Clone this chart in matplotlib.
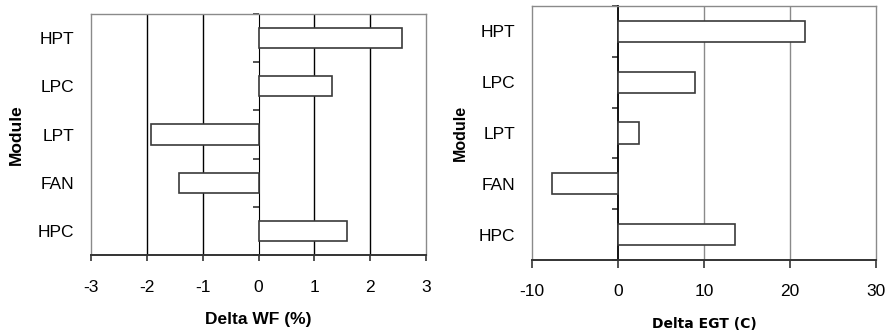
import matplotlib.pyplot as plt
import numpy as np

plt.rcParams['font.family'] = ['Liberation Sans', 'DejaVu Sans']

modules = ['HPT', 'LPC', 'LPT', 'FAN', 'HPC']
delta_wf = [2.57, 1.32, -1.92, -1.42, 1.58]
delta_egt = [21.8, 9.0, 2.4, -7.7, 13.6]
wf_ticks = [-3, -2, -1, 0, 1, 2, 3]
egt_ticks = [-10, 0, 10, 20, 30]

fig = plt.figure(figsize=(8.88, 3.31), dpi=100)
ax1 = fig.add_axes([0.1025, 0.2296, 0.3773, 0.7281])
ax2 = fig.add_axes([0.5991, 0.2145, 0.3874, 0.7674])

y = np.arange(len(modules))


def draw_panel(ax, vals, ticks, grid_col, zero_col, tick_len, tick_pad):
    ax.set_xlim(ticks[0], ticks[-1])
    ax.set_ylim(len(modules) - 0.5, -0.5)
    for t in ticks[1:-1]:
        if t != 0:
            ax.axvline(t, color=grid_col, lw=1.0, zorder=0)
    ax.barh(y, vals, height=0.42, color='white', edgecolor='#3a3a3a',
            linewidth=1.2, zorder=2)
    ax.set_yticks(y)
    ax.set_yticklabels(modules, fontsize=12.5)
    ax.tick_params(axis='y', length=0, pad=12)
    ax.set_xticks(ticks)
    ax.set_xticklabels([str(t) for t in ticks], fontsize=12.5)
    ax.tick_params(axis='x', length=tick_len, width=1.2, color='#333333',
                   pad=tick_pad, direction='out')
    for s in ['left', 'right', 'top']:
        ax.spines[s].set_color('#8a8a8a')
        ax.spines[s].set_linewidth(1.0)
    ax.spines['bottom'].set_color('#333333')
    ax.spines['bottom'].set_linewidth(1.4)
    # zero axis with category separator ticks
    frac = (0 - ticks[0]) / (ticks[-1] - ticks[0])
    sec = ax.secondary_yaxis(frac)
    sec.set_yticks(np.arange(-0.5, len(modules), 1.0))
    sec.set_yticklabels([])
    sec.tick_params(length=4, width=1.2, color='#333333', direction='out',
                    left=True, right=False)
    sec.spines['left'].set_color(zero_col)
    sec.spines['left'].set_linewidth(1.3)


draw_panel(ax1, delta_wf, wf_ticks, 'black', '#777777', 4, 14)
draw_panel(ax2, delta_egt, egt_ticks, '#8a8a8a', 'black', 6, 11)

ax1.set_xlabel('Delta WF (%)', fontsize=12.5, fontweight='bold', labelpad=12)
ax1.set_ylabel('Module', fontsize=12.5, fontweight='bold', labelpad=10)
ax2.set_xlabel('Delta EGT (C)', fontsize=10, fontweight='bold', labelpad=13,
               family=['DejaVu Sans'])
ax2.set_ylabel('Module', fontsize=11.5, fontweight='bold', labelpad=8)

fig.savefig('out.png', dpi=100)
